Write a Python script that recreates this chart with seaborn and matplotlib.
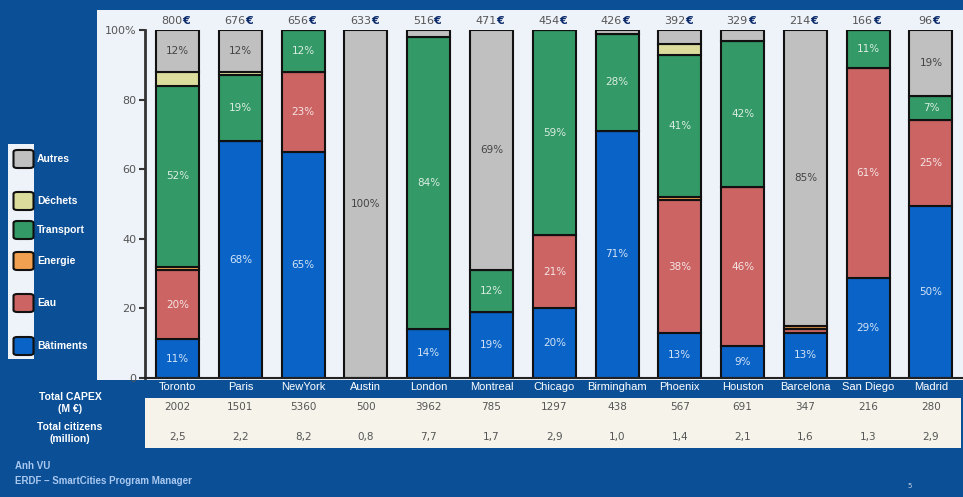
import numpy as np
import pandas as pd
import matplotlib
matplotlib.use("Agg")
import matplotlib.pyplot as plt
import matplotlib.transforms as mtransforms
from matplotlib.patches import Rectangle, FancyBboxPatch
import seaborn as sns

# ── data ─────────────────────────────────────────────────────────────────────
cities = ["Toronto", "Paris", "NewYork", "Austin", "London", "Montreal", "Chicago",
          "Birmingham", "Phoenix", "Houston", "Barcelona", "San Diego", "Madrid"]
batiments = [11, 68, 65, 0, 14, 19, 20, 71, 13, 9, 13, 29, 50]
eau       = [20, 0, 23, 0, 0, 0, 21, 0, 38, 46, 1, 61, 25]
energie   = [1, 0, 0, 0, 0, 0, 0, 0, 1, 0, 1, 0, 0]
transport = [52, 19, 12, 0, 84, 12, 59, 28, 41, 42, 0, 11, 7]
dechets   = [4, 1, 0, 0, 0, 0, 0, 0, 3, 0, 0, 0, 0]
autres    = [12, 12, 0, 100, 2, 69, 0, 1, 4, 3, 85, 0, 19]
per_capita = [800, 676, 656, 633, 516, 471, 454, 426, 392, 329, 214, 166, 96]
capex      = [2002, 1501, 5360, 500, 3962, 785, 1297, 438, 567, 691, 347, 216, 280]
citizens   = [2.5, 2.2, 8.2, 0.8, 7.7, 1.7, 2.9, 1.0, 1.4, 2.1, 1.6, 1.3, 2.9]

layers = [
    ("Bâtiments", batiments, "#0a64c8"),
    ("Eau",       eau,       "#cc6464"),
    ("Energie",   energie,   "#f0a050"),
    ("Transport", transport, "#339966"),
    ("Déchets",   dechets,   "#dcdc9c"),
    ("Autres",    autres,    "#c0c0c0"),
]

BG    = "#0b4f96"
PANEL = "#eef2f9"
W, H = 963, 497

def fx(px):
    return px / W

def fy(py):
    return 1 - py / H

fig = plt.figure(figsize=(W / 100, H / 100), dpi=100)
fig.patch.set_facecolor(BG)

# light chart panel (behind the axes)
fig.patches.append(Rectangle((fx(97), fy(380)), fx(963) - fx(97), fy(10) - fy(380),
                             transform=fig.transFigure, facecolor=PANEL,
                             edgecolor="none", zorder=-5))

ax = fig.add_axes([fx(145), fy(377.7), fx(963) - fx(145), fy(30.2) - fy(377.7)])
ax.set_facecolor("none")
ax.set_zorder(1)

totals = np.sum([np.array(v, float) for _, v, _ in layers], axis=0)
bottom = np.zeros(len(cities))
for name, vals, col in layers:
    share = np.array(vals, float) / totals * 100
    df = pd.DataFrame({"city": cities, "share": share})
    sns.barplot(data=df, x="city", y="share", order=cities, color=col,
                bottom=bottom, width=0.685, edgecolor="#111111", linewidth=1.5,
                errorbar=None, saturation=1, ax=ax)
    txt_col = "#444444" if name == "Autres" else "white"
    for i, (v, s) in enumerate(zip(vals, share)):
        if v >= 5:
            ax.text(i, bottom[i] + s / 2, f"{v}%", ha="center", va="center",
                    fontsize=7.5, color=txt_col,
                    alpha=1 if name == "Autres" else 0.82)
    bottom = bottom + share

ax.set_xlim(-0.52, 12.51)
ax.set_ylim(0, 100)
ax.set_yticks([0, 20, 40, 60, 80, 100])
ax.set_yticklabels(["0", "20", "40", "60", "80", "100%"], color="#555555", fontsize=8)
ax.tick_params(axis="y", length=4, width=1.5, color="#333333", pad=2)
ax.tick_params(axis="x", length=0, pad=3)
ax.set_xticks(range(len(cities)))
ax.set_xticklabels(cities, color="white", fontsize=8, family="Liberation Sans")
ax.set_xlabel("")
ax.set_ylabel("")
for s in ("top", "right"):
    ax.spines[s].set_visible(False)
ax.spines["left"].set_color("#333333")
ax.spines["left"].set_linewidth(2)
ax.spines["bottom"].set_color("#222222")
ax.spines["bottom"].set_linewidth(1.5)

# per-capita labels above bars
for i, v in enumerate(per_capita):
    t = ax.annotate(str(v), xy=(i, 100), xytext=(-4, 3), textcoords="offset points",
                    ha="center", va="bottom", fontsize=8, color="#555555",
                    annotation_clip=False)
    ax.annotate("€", xy=(1, 0), xycoords=t, ha="left", va="bottom",
                fontsize=8, color="#0a2a6a", fontweight="bold", annotation_clip=False)

# legend on the left
fig.patches.append(Rectangle((fx(8), fy(359)), fx(34) - fx(8), fy(144) - fy(359),
                             transform=fig.transFigure, facecolor=PANEL,
                             edgecolor="none", zorder=-4))
legend_y = {"Autres": 159, "Déchets": 201, "Transport": 230,
            "Energie": 261, "Eau": 303, "Bâtiments": 346}
for name, _, col in layers:
    cy = legend_y[name]
    fig.patches.append(FancyBboxPatch((fx(13.5), fy(cy + 9)), fx(20), fy(0) - fy(18),
                                      boxstyle="round,pad=0,rounding_size=0.004",
                                      transform=fig.transFigure, facecolor=col,
                                      edgecolor="#111111", linewidth=1.5, zorder=-3))
    fig.text(fx(37), fy(cy), name, ha="left", va="center", color="white",
             fontsize=7.5, fontweight="bold", family="Liberation Sans")

# table below
fig.patches.append(Rectangle((fx(145), fy(448)), fx(961) - fx(145), fy(398) - fy(448),
                             transform=fig.transFigure, facecolor="#f6f4ea",
                             edgecolor="none", zorder=-4))
blend = mtransforms.blended_transform_factory(ax.transData, fig.transFigure)
for i in range(len(cities)):
    fig.text(i, fy(407), str(capex[i]), transform=blend, ha="center", va="center",
             fontsize=7.5, color="#555555")
    fig.text(i, fy(437), f"{citizens[i]:.1f}".replace(".", ","), transform=blend,
             ha="center", va="center", fontsize=7.5, color="#555555")

for txt, py in (("Total CAPEX", 397), ("(M €)", 409),
                ("Total citizens", 427), ("(million)", 439)):
    fig.text(fx(70), fy(py), txt, ha="center", va="center", color="white",
             fontsize=7.5, fontweight="bold", family="Liberation Sans")

# footer
fig.text(fx(15), fy(466), "Anh VU", ha="left", va="center", color="#a9c8f0",
         fontsize=7, fontweight="bold", family="Liberation Sans")
fig.text(fx(15), fy(481), "ERDF – SmartCities Program Manager", ha="left", va="center",
         color="#a9c8f0", fontsize=7, fontweight="bold", family="Liberation Sans")
fig.text(fx(910), fy(486), "5", ha="center", va="center", color="#c8d4e4", fontsize=5)

fig.savefig("out.png", dpi=100, facecolor=fig.get_facecolor())
